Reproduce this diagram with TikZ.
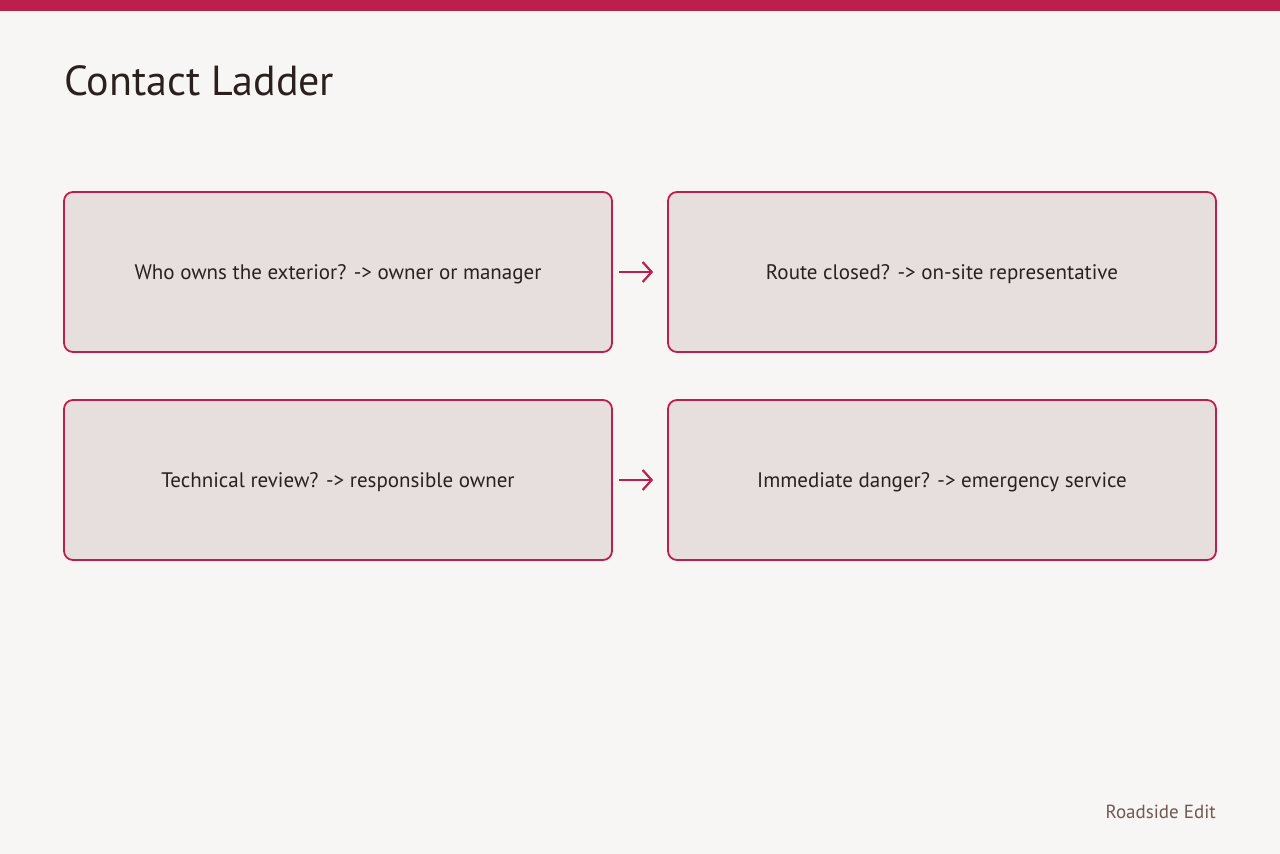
\documentclass[tikz,border=0pt]{standalone}
\usetikzlibrary{arrows.meta}
\usepackage{fontspec}
\setmainfont{PT Sans}
\definecolor{bg}{HTML}{F8F6F4}
\definecolor{acc}{HTML}{BC1F4B}
\definecolor{boxf}{HTML}{E7DFDD}
\definecolor{txt}{HTML}{2A211E}
\definecolor{foot}{HTML}{6E5A52}
\begin{document}
\begin{tikzpicture}[x=1pt,y=-1pt,
 box/.style={draw=acc,line width=1.8pt,fill=boxf,rounded corners=9pt,minimum width=548pt,minimum height=160pt,inner sep=0pt,font=\fontsize{21}{25}\selectfont,text=txt,text height=18pt,text depth=4pt},
 arr/.style={draw=acc,line width=2.2pt,-{Straight Barb[length=9pt,width=20pt]}}]
\useasboundingbox (0,0) rectangle (1280,854);
\fill[bg] (0,0) rectangle (1280,854);
\fill[acc] (0,0) rectangle (1280,11);
\node[anchor=base west,font=\fontsize{42}{50}\selectfont,text=txt,inner sep=0pt] (title) at (64,95) {Contact Ladder};
\node[box] (a) at (338,272) {Who owns the exterior? -> owner or manager};
\node[box] (b) at (942,272) {Route closed? -> on-site representative};
\node[box] (c) at (338,480) {Technical review? -> responsible owner};
\node[box] (d) at (942,480) {Immediate danger? -> emergency service};
\draw[arr] ([xshift=6pt]a.east) -- ([xshift=-14pt]b.west);
\draw[arr] ([xshift=6pt]c.east) -- ([xshift=-14pt]d.west);
\node[anchor=base east,font=\fontsize{19}{23}\selectfont,text=foot,inner sep=0pt] (f) at (1216,818) {Roadside Edit};
\end{tikzpicture}
\end{document}
